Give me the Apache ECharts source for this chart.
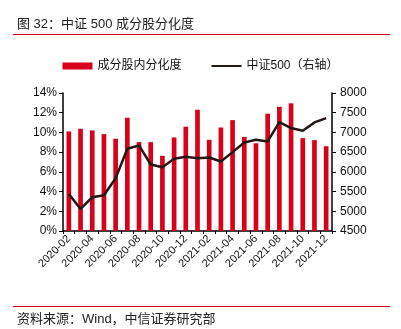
<!DOCTYPE html>
<html><head><meta charset="utf-8">
<script src="https://cdn.jsdelivr.net/npm/echarts@6/dist/echarts.min.js"></script>
<style>html,body{margin:0;padding:0;background:#fff}#c{width:401px;height:329px}</style>
</head><body><div id="c"></div>
<script>
var categories = ['2020-02','2020-03','2020-04','2020-05','2020-06','2020-07','2020-08','2020-09','2020-10','2020-11','2020-12','2021-01','2021-02','2021-03','2021-04','2021-05','2021-06','2021-07','2021-08','2021-09','2021-10','2021-11','2021-12'];
var dispersion = [10.1,10.37,10.2,9.83,9.36,11.49,9.02,9.02,7.63,9.49,10.58,12.3,9.25,10.5,11.25,9.53,8.9,11.9,12.6,12.95,9.42,9.22,8.6];
var csi500 = [5440,5060,5356,5407,5839,6585,6670,6186,6119,6330,6381,6347,6364,6263,6500,6746,6814,6771,7263,7110,7042,7254,7364];
var leftTicks = {min:0, max:14, interval:2};
var rightTicks = {min:4500, max:8000, interval:500};
var FONT = '"Liberation Sans", Arial, "Noto Sans CJK SC", sans-serif';
var chart = echarts.init(document.getElementById('c'), null, {renderer:'canvas'});
chart.setOption({
  animation:false,
  textStyle:{fontFamily:FONT},
  graphic:[
    {type:'text', left:17, top:18, style:{text:'图 32：中证 500 成分股分化度', font:'13px '+FONT, fill:'#222'}},
    {type:'line', shape:{x1:13,y1:34.5,x2:390,y2:34.5}, style:{stroke:'#d9001b', lineWidth:1}},
    {type:'line', shape:{x1:13,y1:306.5,x2:390,y2:306.5}, style:{stroke:'#d9001b', lineWidth:1}},
    {type:'text', left:17, top:313, style:{text:'资料来源：Wind，中信证券研究部', font:'13px '+FONT, fill:'#222'}}
  ],
  legend:{
    top:55, left:'center', itemGap:30, itemWidth:30, itemHeight:7,
    textStyle:{fontSize:12, color:'#111', fontFamily:FONT},
    data:[{name:'成分股内分化度', icon:'rect'},{name:'中证500（右轴）', icon:'path://M0,0L30,0L30,2L0,2Z'}]
  },
  grid:{left:63, right:69, top:93, bottom:98, containLabel:false},
  xAxis:{
    type:'category', data:categories, boundaryGap:true,
    axisLine:{lineStyle:{color:'#000', width:1.5}},
    axisTick:{show:true, inside:false, length:3, alignWithLabel:false, interval:0, lineStyle:{color:'#000'}},
    axisLabel:{interval:1, rotate:45, fontSize:11, color:'#111', margin:6, fontFamily:FONT}
  },
  yAxis:[
    {type:'value', min:leftTicks.min, max:leftTicks.max, interval:leftTicks.interval, position:'left',
     splitLine:{show:false},
     axisLine:{show:true, lineStyle:{color:'#000', width:1.5}},
     axisTick:{show:true, length:4, lineStyle:{color:'#000'}},
     axisLabel:{formatter:'{value}%', fontSize:12, color:'#111', margin:6, fontFamily:FONT}},
    {type:'value', min:rightTicks.min, max:rightTicks.max, interval:rightTicks.interval, position:'right',
     splitLine:{show:false},
     axisLine:{show:true, lineStyle:{color:'#000', width:1.5}},
     axisTick:{show:true, length:4, lineStyle:{color:'#000'}},
     axisLabel:{formatter:function(v){return String(v);}, fontSize:12, color:'#111', margin:8, fontFamily:FONT}}
  ],
  series:[
    {name:'成分股内分化度', type:'bar', yAxisIndex:0, data:dispersion, barWidth:'40%',
     itemStyle:{color:'#d9001b'}},
    {name:'中证500（右轴）', type:'line', yAxisIndex:1, data:csi500, symbol:'none',
     lineStyle:{color:'#231815', width:2.5}, itemStyle:{color:'#231815'}}
  ]
});
</script></body></html>
